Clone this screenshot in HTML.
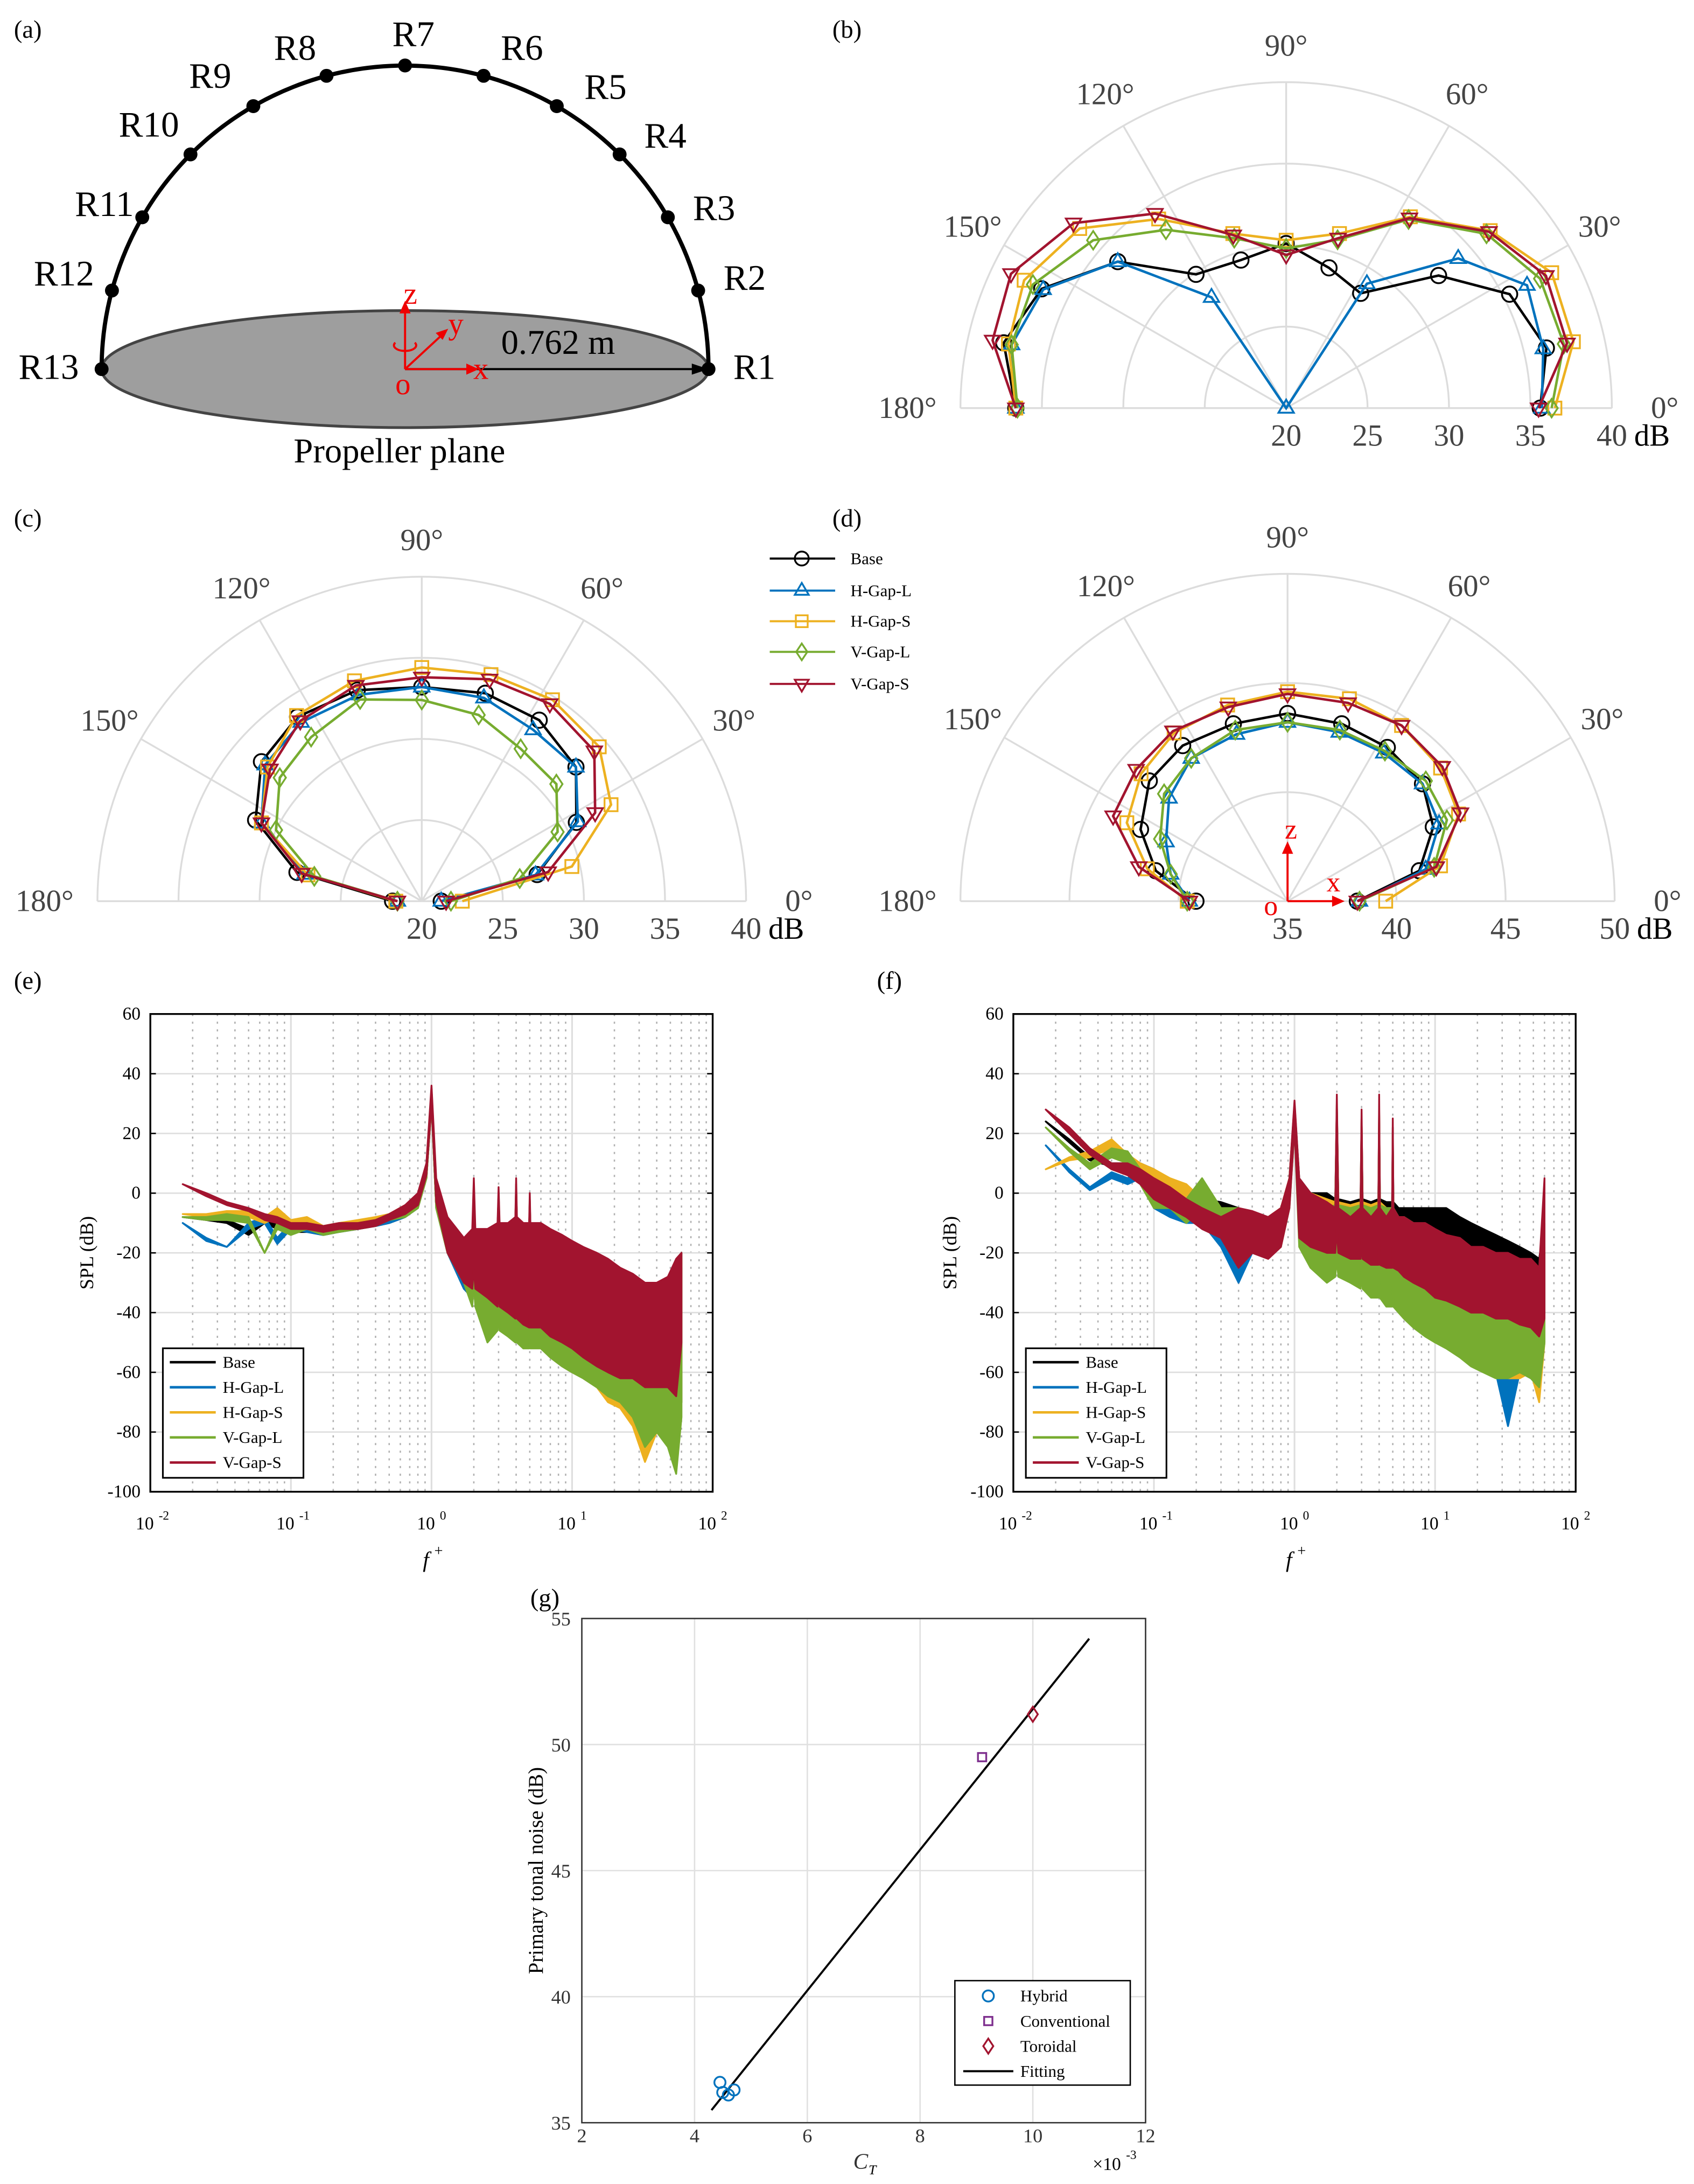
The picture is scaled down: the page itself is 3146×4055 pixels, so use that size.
<!DOCTYPE html>
<html><head><meta charset="utf-8"><style>
html,body{margin:0;padding:0;background:#fff;}
svg{display:block;font-family:"Liberation Serif",serif;}
</style></head><body>
<svg id="fig" xmlns="http://www.w3.org/2000/svg" width="3146" height="4055" viewBox="0 0 1217 1568" preserveAspectRatio="none">
<rect x="0" y="0" width="1217" height="1568" fill="#fff"/>
<g id="panelA">
<text x="10" y="27" font-size="18">(a)</text>
<ellipse cx="291" cy="265" rx="218" ry="42" fill="#9e9e9e" stroke="#444" stroke-width="2"/>
<path d="M73,265 A218,218 0 0 1 509,265" fill="none" stroke="#000" stroke-width="3"/>
<line x1="291" y1="265" x2="500" y2="265" stroke="#000" stroke-width="1.5"/>
<polygon points="509,265 497,261 497,269" fill="#000"/>
<text x="360" y="254" font-size="25">0.762 m</text>
<text x="287" y="332" font-size="25" text-anchor="middle">Propeller plane</text>
<g stroke="#e00" stroke-width="1.5" fill="none">
<line x1="291" y1="265" x2="338" y2="265"/><line x1="291" y1="265" x2="291" y2="222"/><line x1="291" y1="265" x2="318" y2="240"/>
<path d="M284,246 A8,4 0 1 0 298,246"/>
</g>
<polygon points="344,265 335,261 335,269" fill="#e00"/><polygon points="291,216 287,225 295,225" fill="#e00"/><polygon points="322,236 313,239 318,244" fill="#e00"/>
<g fill="#e00" font-size="22"><text x="290" y="218">z</text><text x="322" y="240">y</text><text x="340" y="272">x</text><text x="284" y="283">o</text></g>
<g id="rpts"></g>
</g>
<g id="polarB"></g>
<g id="polarC"></g>
<g id="polarD"></g>
<g id="legCD"></g>
<g id="specE"></g>
<g id="specF"></g>
<g id="scatG"></g>
</svg>
<script>
// ---------- polar data ----------
const angles=[0,13,27,41,57,73,90,107,124,139,154,167,180];
const seriesNames=["Base","H-Gap-L","H-Gap-S","V-Gap-L","V-Gap-S"];
const bBase=[35.6,36.4,35.4,32.4,28.4,29.0,30.1,29.5,29.9,33.7,36.7,37.8,36.6];
const bHL=[35.7,36.2,36.6,34.0,29.1,20.0,20.0,20.0,28.2,33.7,36.6,37.3,36.6];
const bHS=[36.5,38.1,38.3,36.6,34.0,31.2,30.3,31.2,34.0,36.8,37.9,37.5,36.6];
const bVL=[36.3,37.5,37.5,36.3,33.8,30.8,29.8,30.9,33.2,35.7,37.3,37.3,36.5];
const bVS=[35.5,37.7,37.9,36.5,33.9,30.9,29.4,31.1,34.4,37.3,38.8,38.5,36.6];
const cBase=[21.2,27.3,30.7,32.6,33.3,33.4,33.2,33.6,33.7,33.1,31.4,27.9,21.8];
const cHL=[21.2,27.2,30.8,32.6,32.6,33.1,33.2,33.3,33.3,32.8,31.0,27.4,21.5];
const cHS=[22.5,29.5,33.1,34.5,34.8,34.6,34.4,34.2,33.8,32.6,31.0,27.2,21.6];
const cVL=[21.8,26.2,29.4,31.0,31.2,32.0,32.4,33.0,32.2,31.6,30.0,26.8,21.5];
const cVS=[21.5,28.0,32.0,34.1,34.5,34.3,33.8,33.9,33.4,32.4,31.0,27.6,21.5];
const dBase=[38.2,41.2,42.5,43.2,43.4,43.5,43.6,43.5,43.6,43.4,42.5,41.2,39.2];
const dHL=[38.3,41.5,42.8,43.2,43.1,43.1,43.2,43.0,42.9,42.2,41.2,40.5,39.5];
const dHS=[39.5,42.2,43.8,44.3,44.6,44.7,44.6,44.4,44.3,43.9,43.2,41.6,39.6];
const dVL=[38.3,41.9,43.2,43.4,43.2,43.2,43.2,43.2,42.9,42.5,41.5,40.5,39.6];
const dVS=[38.2,42.0,43.9,44.4,44.6,44.5,44.5,44.3,44.4,44.2,43.9,42.0,39.5];
const bTicks=[20,25,30,35,40], cTicks=[20,25,30,35,40], dTicks=[35,40,45,50];
// ---------- spectrum data ----------
const F=[0.017,0.025,0.035,0.05,0.065,0.08,0.1,0.13,0.17,0.22,0.3,0.4,0.5,0.65,0.8,0.92,1.0,1.08,1.3,1.7,1.95,2,2.05,2.5,2.95,3,3.05,3.5,3.95,4,4.05,4.5,4.95,5,5.05,5.5,6,7,8.5,10,12,15,18,22,27,33,40,48,55,60];
const eBaseHi=[-8,-8,-9,-12,-8,-10,-11,-11,-12,-11,-10,-9,-8,-5,-1,8,35,2,-10,-20,-15,3,-15,-15,-12,0,-12,-12,-10,3,-10,-12,-12,-2,-12,-12,-14,-15,-18,-20,-22,-25,-28,-30,-32,-35,-36,-35,-25,-25];
const eBaseLo=[-8,-9,-10,-14,-10,-12,-13,-13,-14,-13,-12,-11,-10,-8,-5,5,30,-5,-20,-32,-35,-30,-35,-40,-45,-35,-45,-45,-48,-40,-48,-50,-50,-45,-50,-50,-50,-52,-55,-58,-60,-62,-65,-66,-68,-72,-78,-80,-75,-70];
const eHLHi=[-10,-15,-18,-10,-8,-15,-10,-11,-12,-11,-10,-9,-8,-6,-2,7,34,2,-10,-20,-14,2,-14,-14,-12,0,-12,-12,-10,2,-10,-12,-12,-3,-12,-12,-12,-14,-17,-18,-22,-24,-26,-28,-30,-32,-35,-35,-30,-25];
const eHLLo=[-10,-16,-18,-12,-10,-17,-12,-13,-14,-13,-12,-11,-10,-8,-5,5,30,-5,-20,-32,-35,-30,-35,-40,-44,-35,-44,-45,-47,-40,-47,-50,-50,-45,-50,-50,-52,-55,-58,-60,-62,-65,-68,-70,-75,-85,-78,-75,-78,-70];
const eHSHi=[-7,-7,-6,-6,-8,-5,-9,-8,-11,-10,-9,-8,-7,-4,-1,8,35,2,-8,-18,-14,3,-14,-14,-12,0,-12,-12,-10,3,-10,-12,-12,-2,-12,-12,-12,-14,-16,-18,-20,-22,-25,-28,-30,-32,-35,-35,-30,-22];
const eHSLo=[-7,-8,-8,-8,-10,-8,-12,-11,-13,-12,-11,-10,-9,-7,-5,5,30,-5,-20,-30,-34,-30,-34,-38,-44,-35,-44,-45,-48,-40,-48,-50,-50,-45,-50,-50,-52,-55,-58,-60,-62,-65,-70,-72,-78,-90,-80,-78,-80,-70];
const eVLHi=[-8,-8,-7,-8,-20,-10,-12,-10,-12,-11,-10,-9,-7,-5,-2,8,35,2,-8,-20,-14,2,-14,-14,-12,0,-12,-12,-10,2,-10,-12,-12,-3,-12,-12,-12,-14,-16,-18,-20,-22,-24,-27,-28,-30,-32,-33,-30,-20];
const eVLLo=[-8,-9,-9,-10,-20,-12,-14,-12,-14,-13,-12,-11,-9,-8,-5,5,30,-5,-20,-30,-38,-30,-38,-50,-46,-38,-46,-48,-50,-42,-50,-52,-52,-48,-52,-52,-52,-55,-58,-60,-62,-65,-68,-70,-75,-85,-80,-85,-94,-75];
const eVSHi=[3,0,-3,-5,-7,-8,-10,-10,-11,-10,-10,-9,-7,-4,0,10,36,5,-8,-15,-12,5,-12,-12,-10,2,-10,-10,-8,5,-8,-10,-10,0,-10,-10,-10,-12,-14,-16,-18,-20,-22,-25,-27,-30,-30,-28,-22,-20];
const eVSLo=[3,-1,-4,-6,-9,-10,-12,-12,-13,-12,-12,-11,-9,-7,-4,6,30,-3,-20,-30,-32,-25,-32,-35,-38,-30,-38,-40,-42,-35,-42,-44,-45,-40,-45,-45,-45,-48,-50,-52,-55,-58,-60,-62,-62,-65,-65,-65,-68,-50];
const fBaseHi=[24,18,12,10,10,10,8,3,0,-2,-3,-5,-8,-10,-6,5,30,5,0,0,-2,30,-2,-3,-2,25,-2,-3,-2,28,-2,-3,-3,22,-3,-5,-5,-5,-5,-5,-5,-8,-10,-12,-14,-16,-18,-20,-22,-10];
const fBaseLo=[24,17,11,9,8,7,3,0,-3,-5,-8,-10,-12,-14,-12,0,25,-10,-15,-20,-22,-15,-22,-25,-26,-18,-26,-28,-28,-20,-28,-30,-30,-22,-30,-30,-32,-34,-35,-38,-40,-42,-45,-45,-48,-48,-50,-50,-52,-40];
const fHLHi=[16,8,2,7,5,8,0,-5,-8,-6,-12,-8,-10,-10,-8,3,28,2,-3,-5,-4,28,-4,-5,-4,22,-4,-5,-4,25,-4,-5,-5,20,-5,-8,-8,-10,-12,-14,-16,-18,-20,-22,-24,-26,-28,-30,-30,-20];
const fHLLo=[16,7,1,5,3,5,-5,-8,-10,-10,-18,-30,-20,-18,-15,-3,22,-15,-20,-25,-26,-20,-26,-30,-30,-22,-30,-32,-32,-25,-32,-35,-35,-28,-35,-38,-40,-42,-45,-48,-50,-52,-55,-58,-60,-78,-60,-62,-65,-50];
const fHSHi=[8,12,14,18,13,10,8,5,3,-2,-5,-8,-10,-8,-5,5,30,3,0,-2,-3,30,-3,-4,-3,25,-3,-4,-3,28,-3,-5,-5,20,-5,-8,-8,-10,-12,-14,-16,-18,-20,-22,-24,-26,-28,-30,-30,-18];
const fHSLo=[8,11,12,15,10,6,3,0,-3,-8,-12,-20,-15,-14,-12,0,24,-12,-20,-25,-26,-20,-26,-28,-30,-22,-30,-32,-32,-25,-32,-35,-35,-28,-35,-38,-40,-42,-45,-48,-50,-52,-55,-58,-60,-62,-62,-60,-70,-50];
const fVLHi=[22,15,10,15,14,8,3,0,-2,5,-5,-5,-8,-10,-6,3,28,0,-2,-5,-4,28,-4,-5,-4,22,-4,-5,-4,25,-4,-5,-5,20,-5,-8,-8,-10,-12,-14,-16,-18,-20,-22,-24,-26,-28,-30,-30,-20];
const fVLLo=[22,14,8,12,10,3,-5,-5,-10,-5,-12,-15,-18,-20,-18,-5,22,-18,-25,-30,-28,-22,-28,-30,-32,-25,-32,-35,-35,-28,-35,-38,-38,-30,-38,-40,-42,-45,-48,-50,-52,-55,-58,-60,-62,-62,-60,-62,-65,-50];
const fVSHi=[28,22,15,10,10,8,5,2,-2,-5,-8,-5,-6,-8,-5,5,31,5,0,-3,-5,33,-5,-8,-5,28,-5,-8,-5,33,-5,-8,-5,25,-5,-8,-8,-10,-10,-12,-14,-15,-18,-18,-20,-20,-22,-22,-25,5];
const fVSLo=[28,20,13,8,6,3,-2,-5,-8,-12,-15,-25,-20,-22,-18,-5,22,-15,-18,-20,-20,-12,-20,-22,-22,-15,-22,-24,-24,-15,-24,-25,-25,-18,-25,-26,-28,-30,-32,-35,-36,-38,-40,-40,-42,-42,-44,-45,-48,-42];
const splTicks=[60,40,20,0,-20,-40,-60,-80,-100];
// ---------- scatter data ----------
const hybridCT=[4.45,4.5,4.6,4.7], hybridN=[36.6,36.2,36.1,36.3];
const convCT=[9.1], convN=[49.5];
const toroCT=[10.0], toroN=[51.2];
const fitCT=[4.3,11.0], fitN=[35.5,54.2];
const gxTicks=[2,4,6,8,10,12], gyTicks=[35,40,45,50,55];

const NS="http://www.w3.org/2000/svg";
const colors=["#000000","#0072BD","#EDB120","#77AC30","#A2142F"];
const markers=["circle","tri","square","diamond","dtri"];
function el(tag,attrs,parent){const e=document.createElementNS(NS,tag);for(const k in attrs)e.setAttribute(k,attrs[k]);parent.appendChild(e);return e;}
function marker(g,type,x,y,c,s){
  let e;
  if(type==="circle")e=el("circle",{cx:x,cy:y,r:s,fill:"none",stroke:c,"stroke-width":1.3},g);
  else if(type==="square")e=el("rect",{x:x-s*0.85,y:y-s*0.85,width:s*1.7,height:s*1.7,fill:"none",stroke:c,"stroke-width":1.3},g);
  else if(type==="diamond")e=el("polygon",{points:`${x},${y-s*1.2} ${x+s*0.8},${y} ${x},${y+s*1.2} ${x-s*0.8},${y}`,fill:"none",stroke:c,"stroke-width":1.3},g);
  else if(type==="tri")e=el("polygon",{points:`${x},${y-s*1.1} ${x+s},${y+s*0.6} ${x-s},${y+s*0.6}`,fill:"none",stroke:c,"stroke-width":1.3},g);
  else e=el("polygon",{points:`${x},${y+s*1.1} ${x+s},${y-s*0.6} ${x-s},${y-s*0.6}`,fill:"none",stroke:c,"stroke-width":1.3},g);
  
  
  return e;
}
(function(){
  const g=document.getElementById("rpts");
  const lab=[[542,272],[535,208],[513,158],[478,106],[435,71],[375,43],[297,33],[212,43],[151,63],[107,98],[75,155],[46,205],[35,272]];
  for(let k=0;k<13;k++){
    const a=k*15*Math.PI/180;
    const c=el("circle",{cx:291+218*Math.cos(a),cy:265-218*Math.sin(a),r:5,fill:"#000"},g);
    
    
    const t=el("text",{x:lab[k][0],y:lab[k][1],"font-size":26,"text-anchor":"middle"},g);
    t.textContent="R"+(k+1);
    
    
  }
})();
function polar(id,cx,cy,R,ticks,data,label,lx,ly){
  const g=document.getElementById(id);
  const mn=ticks[0],mx=ticks[ticks.length-1];
  const r=v=>Math.max(0,(v-mn)/(mx-mn)*R);
  const t0=el("text",{x:lx,y:ly,"font-size":18},g);t0.textContent=label;
  
  
  for(let i=1;i<ticks.length;i++){
    const rr=r(ticks[i]);
    el("path",{d:`M${cx-rr},${cy} A${rr},${rr} 0 0 1 ${cx+rr},${cy}`,fill:"none",stroke:"#dcdcdc","stroke-width":1.3},g);
  }
  for(let a=0;a<=180;a+=30){
    const ra=a*Math.PI/180;
    el("line",{x1:cx,y1:cy,x2:cx+R*Math.cos(ra),y2:cy-R*Math.sin(ra),stroke:"#dcdcdc","stroke-width":1.3},g);
    const t=el("text",{x:cx+(R+26)*Math.cos(ra)+(a===0?12:a===180?-12:0),y:cy-(R+26)*Math.sin(ra)+7,"font-size":22,"text-anchor":"middle",fill:"#444"},g);
    t.textContent=a+"°";
    
    
  }
  ticks.forEach(tv=>{
    const t=el("text",{x:cx+r(tv),y:cy+27,"font-size":22,"text-anchor":"middle",fill:"#444"},g);
    t.textContent=tv;
    
    
  });
  const u=el("text",{x:cx+R+16,y:cy+27,"font-size":22},g);u.textContent="dB";
  data.forEach((vals,s)=>{
    const pts=vals.map((v,i)=>{const a=angles[i]*Math.PI/180;return [cx+r(v)*Math.cos(a),cy-r(v)*Math.sin(a)];});
    const p=el("polyline",{points:pts.map(p=>p.join(",")).join(" "),fill:"none",stroke:colors[s],"stroke-width":1.8},g);
    
    
    pts.forEach(pt=>marker(g,markers[s],pt[0],pt[1],colors[s],5.5));
  });
}
polar("polarB",924,293,234,bTicks,[bBase,bHL,bHS,bVL,bVS],"(b)",598,27);
polar("polarC",303,647,233,cTicks,[cBase,cHL,cHS,cVL,cVS],"(c)",10,378);
polar("polarD",925,647,235,dTicks,[dBase,dHL,dHS,dVL,dVS],"(d)",598,378);
(function(){
  const g=document.getElementById("polarD");
  el("line",{x1:925,y1:647,x2:925,y2:610,stroke:"#e00","stroke-width":1.5},g);
  el("line",{x1:925,y1:647,x2:960,y2:647,stroke:"#e00","stroke-width":1.5},g);
  el("polygon",{points:"925,604 921,613 929,613",fill:"#e00"},g);
  el("polygon",{points:"966,647 957,643 957,651",fill:"#e00"},g);
  const a=el("text",{x:923,y:602,"font-size":20,fill:"#e00"},g);a.textContent="z";
  const b=el("text",{x:953,y:640,"font-size":20,fill:"#e00"},g);b.textContent="x";
  const c=el("text",{x:908,y:657,"font-size":20,fill:"#e00"},g);c.textContent="o";
  const g2=document.getElementById("legCD");
  const ys=[401,424,446,468,491];
  seriesNames.forEach((n,i)=>{
    el("line",{x1:553,y1:ys[i],x2:600,y2:ys[i],stroke:colors[i],"stroke-width":1.5},g2);
    marker(g2,markers[i],576,ys[i],colors[i],5);
    const t=el("text",{x:611,y:ys[i]+4,"font-size":12},g2);t.textContent=n;
    
    
  });
})();
function spectrum(id,x0,x1,y0,y1,label,series){
  const g=document.getElementById(id);
  const X=f=>x0+(Math.log10(f)+2)/4*(x1-x0);
  const Y=v=>y0+(60-v)/160*(y1-y0);
  const t0=el("text",{x:x0-98,y:y0-18,"font-size":18},g);t0.textContent=label;
  for(let d=-2;d<2;d++){for(let m=2;m<=9;m++){const x=X(m*Math.pow(10,d));el("line",{x1:x,y1:y0,x2:x,y2:y1,stroke:"#b0b0b0","stroke-width":1,"stroke-dasharray":"1.5,4"},g);}}
  splTicks.forEach(v=>{el("line",{x1:x0,y1:Y(v),x2:x1,y2:Y(v),stroke:"#dedede","stroke-width":1},g);
    const t=el("text",{x:x0-7,y:Y(v)+4,"font-size":13,"text-anchor":"end"},g);t.textContent=v;
    
    
    el("line",{x1:x0,y1:Y(v),x2:x0+4,y2:Y(v),stroke:"#000"},g);el("line",{x1:x1,y1:Y(v),x2:x1-4,y2:Y(v),stroke:"#000"},g);});
  [-2,-1,0,1,2].forEach(d=>{const x=X(Math.pow(10,d));el("line",{x1:x,y1:y0,x2:x,y2:y1,stroke:"#dedede","stroke-width":1.2},g);
    const t=el("text",{x:x-4,y:y1+27,"font-size":13,"text-anchor":"middle"},g);t.textContent="10";
    const s=el("text",{x:x+6,y:y1+20,"font-size":9},g);s.textContent=String(d);
    
    });
  series.forEach((sr,s)=>{
    const up=sr[0].map((v,i)=>[X(F[i]),Y(v)]);
    const dn=sr[1].map((v,i)=>[X(F[i]),Y(v)]).reverse();
    const p=el("polygon",{points:up.concat(dn).map(p=>p.join(",")).join(" "),fill:colors[s],stroke:colors[s],"stroke-width":1.3,"stroke-linejoin":"round"},g);
    
    
  });
  el("rect",{x:x0,y:y0,width:x1-x0,height:y1-y0,fill:"none",stroke:"#000","stroke-width":1.3},g);
  const yl=el("text",{x:0,y:0,"font-size":14,"text-anchor":"middle",transform:`translate(${x0-41},${(y0+y1)/2}) rotate(-90)`},g);yl.textContent="SPL (dB)";
  
  
  const xl=el("text",{x:(x0+x1)/2-4,y:y1+54,"font-size":16,"font-style":"italic","text-anchor":"middle"},g);xl.textContent="f";
  const xs=el("text",{x:(x0+x1)/2+2,y:y1+46,"font-size":11},g);xs.textContent="+";
  const lx=x0+9,ly=y1-103;
  el("rect",{x:lx,y:ly,width:101,height:93,fill:"#fff",stroke:"#000","stroke-width":1.2},g);
  seriesNames.forEach((n,i)=>{const yy=ly+10+i*18;el("line",{x1:lx+5,y1:yy,x2:lx+38,y2:yy,stroke:colors[i],"stroke-width":1.8},g);
    const t=el("text",{x:lx+43,y:yy+4,"font-size":12},g);t.textContent=n;
    
    });
}
spectrum("specE",108,512,728,1071,"(e)",[[eBaseHi,eBaseLo],[eHLHi,eHLLo],[eHSHi,eHSLo],[eVLHi,eVLLo],[eVSHi,eVSLo]]);
spectrum("specF",728,1132,728,1071,"(f)",[[fBaseHi,fBaseLo],[fHLHi,fHLLo],[fHSHi,fHSLo],[fVLHi,fVLLo],[fVSHi,fVSLo]]);
(function(){
  const g=document.getElementById("scatG");
  const x0=418,x1=823,y0=1162,y1=1524;
  const X=v=>x0+(v-2)/10*(x1-x0), Y=v=>y1-(v-35)/20*(y1-y0);
  const t0=el("text",{x:381,y:1153,"font-size":18},g);t0.textContent="(g)";
  gxTicks.forEach(v=>{el("line",{x1:X(v),y1:y0,x2:X(v),y2:y1,stroke:"#e0e0e0"},g);
    const t=el("text",{x:X(v),y:y1+14,"font-size":14,"text-anchor":"middle",fill:"#333"},g);t.textContent=v;
    
    });
  gyTicks.forEach(v=>{el("line",{x1:x0,y1:Y(v),x2:x1,y2:Y(v),stroke:"#e0e0e0"},g);
    const t=el("text",{x:x0-8,y:Y(v)+5,"font-size":14,"text-anchor":"end",fill:"#333"},g);t.textContent=v;
    
    });
  el("rect",{x:x0,y:y0,width:x1-x0,height:y1-y0,fill:"none",stroke:"#333","stroke-width":1},g);
  const fl=el("line",{x1:X(fitCT[0]),y1:Y(fitN[0]),x2:X(fitCT[1]),y2:Y(fitN[1]),stroke:"#000","stroke-width":1.5},g);
  
  
  hybridCT.forEach((v,i)=>marker(g,"circle",X(v),Y(hybridN[i]),"#0072BD",4));
  convCT.forEach((v,i)=>marker(g,"square",X(v),Y(convN[i]),"#7E2F8E",3.5));
  toroCT.forEach((v,i)=>marker(g,"diamond",X(v),Y(toroN[i]),"#A2142F",4.5));
  const yl=el("text",{x:0,y:0,"font-size":15,"text-anchor":"middle",transform:`translate(390,${(y0+y1)/2}) rotate(-90)`},g);yl.textContent="Primary tonal noise (dB)";
  
  
  const xl=el("text",{x:613,y:1557,"font-size":16,"font-style":"italic","fill":"#333"},g);xl.textContent="C";
  const xs=el("text",{x:624,y:1561,"font-size":10,"font-style":"italic"},g);xs.textContent="T";
  const m=el("text",{x:785,y:1558,"font-size":13},g);m.textContent="×10";
  const me=el("text",{x:809,y:1550,"font-size":9},g);me.textContent="-3";
  const lx=686,ly=1422;
  el("rect",{x:lx,y:ly,width:126,height:75,fill:"#fff",stroke:"#000"},g);
  const names=["Hybrid","Conventional","Toroidal","Fitting"];
  names.forEach((n,i)=>{const yy=ly+11+i*18;
    if(i===0)marker(g,"circle",lx+24,yy,"#0072BD",4);
    if(i===1)marker(g,"square",lx+24,yy,"#7E2F8E",3.5);
    if(i===2)marker(g,"diamond",lx+24,yy,"#A2142F",4.5);
    if(i===3)el("line",{x1:lx+6,y1:yy,x2:lx+42,y2:yy,stroke:"#000","stroke-width":1.5},g);
    const t=el("text",{x:lx+47,y:yy+4,"font-size":12},g);t.textContent=n;
    
    });
})();
</script>
</body></html>
